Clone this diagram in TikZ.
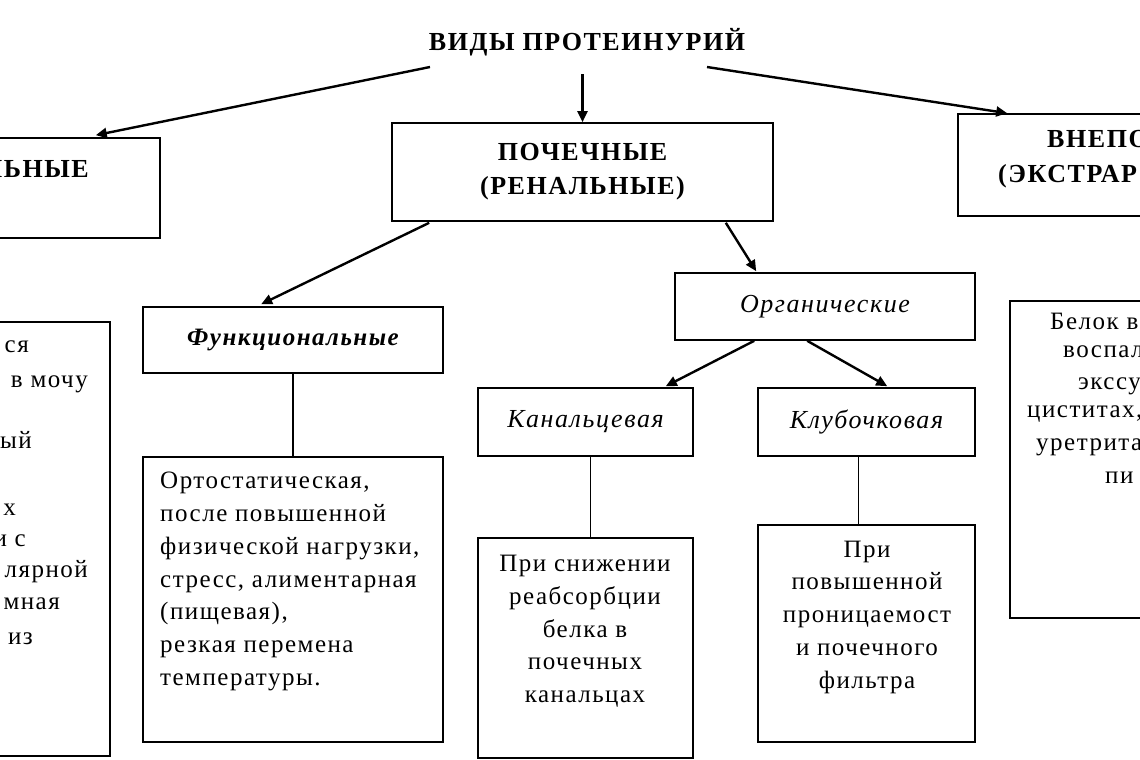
\documentclass[tikz,border=0pt]{standalone}
\usepackage{fontspec}
\setmainfont{Liberation Serif}[LetterSpace=6]
\usetikzlibrary{positioning, arrows.meta, calc}

\tikzset{
  box/.style={draw, line width=1.6pt, inner sep=0pt},
  head/.style={font=\fontsize{26}{34}\selectfont\bfseries, align=center, inner sep=0pt},
  sub/.style={font=\fontsize{26}{32}\selectfont\itshape, inner sep=0pt},
  body/.style={font=\fontsize{25}{32.8}\selectfont, inner sep=0pt},
  arr/.style={-{Triangle[length=11pt,width=10pt]}, line width=2.4pt},
  link/.style={line width=1.4pt}
}

\begin{document}
\begin{tikzpicture}[x=1pt, y=-1pt]
  \useasboundingbox (0,0) rectangle (1140,760);
  \clip (0,0) rectangle (1140,760);

  % top level
  \node[head] (title) at (587,42) {ВИДЫ ПРОТЕИНУРИЙ};
  \node[box, minimum width=260pt, minimum height=100pt] (pre) at (30,188) {};
  \node[box, minimum width=381pt, minimum height=98pt, head] (renal) at (582.5,172)
    {ПОЧЕЧНЫЕ\\(РЕНАЛЬНЫЕ)};
  \node[box, minimum width=342pt, minimum height=102pt] (extra) at (1129,165) {};
  \node[head, anchor=base east] (preH) at (89,177) {ЛЬНЫЕ};
  \node[head, anchor=base west] (extraH1) at (1047,147) {ВНЕПО};
  \node[head, anchor=base west] (extraH2) at (998,182) {(ЭКСТРАР};

  % second level
  \node[box, minimum width=300pt, minimum height=66pt, sub, font=\fontsize{25}{32}\selectfont\bfseries\itshape] (func) at (293,340) {Функциональные};
  \node[box, minimum width=300pt, minimum height=67pt, sub] (organ) at (825,306.5) {Органические};
  \node[box, minimum width=215pt, minimum height=68pt, sub] (kanal) at (585.5,422) {Канальцевая};
  \node[box, minimum width=217pt, minimum height=68pt, sub] (klub) at (866.5,422) {Клубочковая};

  % text boxes
  \node[box, minimum width=310pt, minimum height=434pt] (preBox) at (-45,539) {};
  \node[box, minimum width=300pt, minimum height=285pt] (funcBox) at (293,599.5) {};
  \node[box, minimum width=215pt, minimum height=220pt] (kanalBox) at (585.5,648) {};
  \node[box, minimum width=217pt, minimum height=217pt] (klubBox) at (866.5,633.5) {};
  \node[box, minimum width=290pt, minimum height=317pt] (extraBox) at (1155,459.5) {};

  \node[body, align=left, anchor=north west] (funcTxt) at (160,472)
    {Ортостатическая,\\после повышенной\\физической нагрузки,\\стресс, алиментарная\\(пищевая),\\резкая перемена\\температуры.};
  \node[body, align=center, anchor=north] (kanalTxt) at (585,555)
    {При снижении\\реабсорбции\\белка в\\почечных\\канальцах};
  \node[body, align=center, anchor=north] (klubTxt) at (867,540.5)
    {При\\повышенной\\проницаемост\\и почечного\\фильтра};

  % cut-off text at the edges
  \node[body, anchor=mid east] (pre1) at (29,350) {ся};
  \node[body, anchor=mid east] (pre2) at (88,385) {в мочу};
  \node[body, anchor=mid east] (pre3) at (32,446) {ый};
  \node[body, anchor=mid east] (pre4) at (16,513) {х};
  \node[body, anchor=mid east] (pre5) at (26,544) {и с};
  \node[body, anchor=mid east] (pre6) at (88,575) {лярной};
  \node[body, anchor=mid east] (pre7) at (60,607) {мная};
  \node[body, anchor=mid east] (pre8) at (33,642) {из};
  \node[body, anchor=mid west] (ext1) at (1050,327) {Белок в};
  \node[body, anchor=mid west] (ext2) at (1063,355) {воспал};
  \node[body, anchor=mid west] (ext3) at (1078,387) {экссу};
  \node[body, anchor=mid west] (ext4) at (1027,415) {циститах,};
  \node[body, anchor=mid west] (ext5) at (1036,448) {уретрита};
  \node[body, anchor=mid west] (ext6) at (1105,481) {пи};

  % arrows
  \draw[arr] ([shift={(-157,25)}]title.center) -- ([shift={(-65,-2)}]pre.north east);
  \draw[arr, shorten <=18pt] (renal.north |- title.south) -- (renal.north);
  \draw[arr] ([shift={(120,25)}]title.center) -- ([shift={(50,0)}]extra.north west);
  \draw[arr] ([shift={(38,1)}]renal.south west) -- ([shift={(119,-2)}]func.north west);
  \draw[arr] ([shift={(-48,1)}]renal.south east) -- ([shift={(82,-1)}]organ.north west);
  \draw[arr] ([shift={(80,0)}]organ.south west) -- ([shift={(-28,-1)}]kanal.north east);
  \draw[arr] ([shift={(133,0)}]organ.south west) -- ([shift={(130,-1)}]klub.north west);

  % plain links
  \draw[link] (func.south) -- (funcBox.north);
  \draw[link] ([xshift=5pt]kanal.south) -- ([xshift=5pt]kanalBox.north);
  \draw[link] ([xshift=-8pt]klub.south) -- ([xshift=-8pt]klubBox.north);
\end{tikzpicture}
\end{document}
